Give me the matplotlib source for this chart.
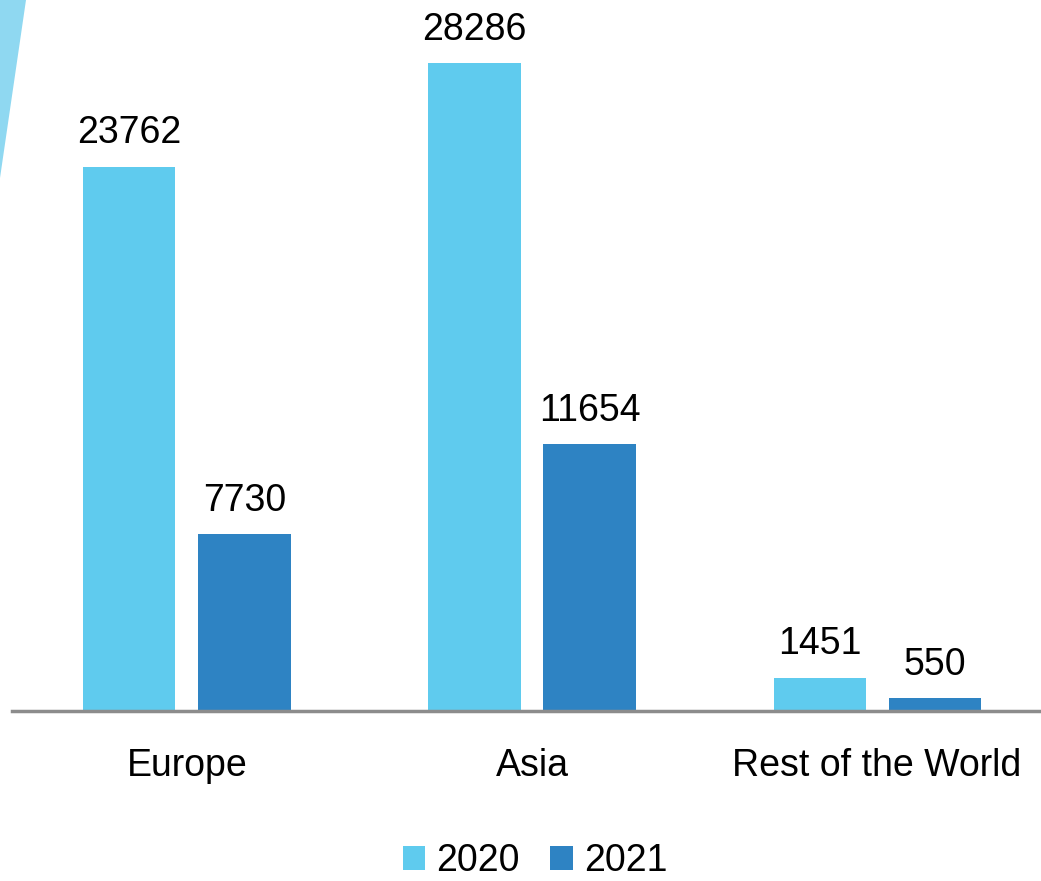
import numpy as np
import matplotlib
matplotlib.use('Agg')
import matplotlib.pyplot as plt
from matplotlib.patches import Polygon

plt.rcParams['font.family'] = ['Liberation Sans', 'DejaVu Sans']

regions = ['Europe', 'Asia', 'Rest of the World']
years = ['2020', '2021']
vals_2020 = [23762, 28286, 1451]
vals_2021 = [7730, 11654, 550]
colors = ['#5FCBEE', '#2E83C3']
fs = 27

fig = plt.figure(figsize=(10.41, 8.81), dpi=100)
ax = fig.add_axes([12 / 1041, 170 / 881, 1029 / 1041, 711 / 881])

# decorative wedge in the top-left corner
fig.patches.append(Polygon([[0, 1], [26 / 1041, 1], [0, 1 - 178 / 881]],
                           closed=True, transform=fig.transFigure,
                           facecolor='#8FD8F1', edgecolor='none'))

x = np.arange(len(regions))
w = 0.267
off = 0.1667
for vals, dx, c, lab in [(vals_2020, -off, colors[0], years[0]),
                         (vals_2021, off, colors[1], years[1])]:
    bars = ax.bar(x + dx, vals, w, color=c, label=lab, zorder=2)
    for b, v in zip(bars, vals):
        ax.annotate(str(v), (b.get_x() + b.get_width() / 2, v),
                    xytext=(0, 11), textcoords='offset points',
                    ha='center', va='bottom', fontsize=fs)

ax.set_xlim(-0.507, 2.475)
ax.set_ylim(0, 31037)
for s in ['top', 'right', 'left']:
    ax.spines[s].set_visible(False)
ax.spines['bottom'].set_color('#8C8C8C')
ax.spines['bottom'].set_linewidth(2.5)
ax.set_yticks([])
ax.set_xticks(x)
ax.set_xticklabels(regions, fontsize=fs)
ax.tick_params(axis='x', length=0, pad=27)

leg = fig.legend(loc='center', bbox_to_anchor=(535 / 1041, 1 - 861 / 881),
                 ncol=2, frameon=False, fontsize=fs, handlelength=0.6,
                 handleheight=0.6, handletextpad=0.3, columnspacing=0.8)

fig.savefig('out.png', dpi=100)
